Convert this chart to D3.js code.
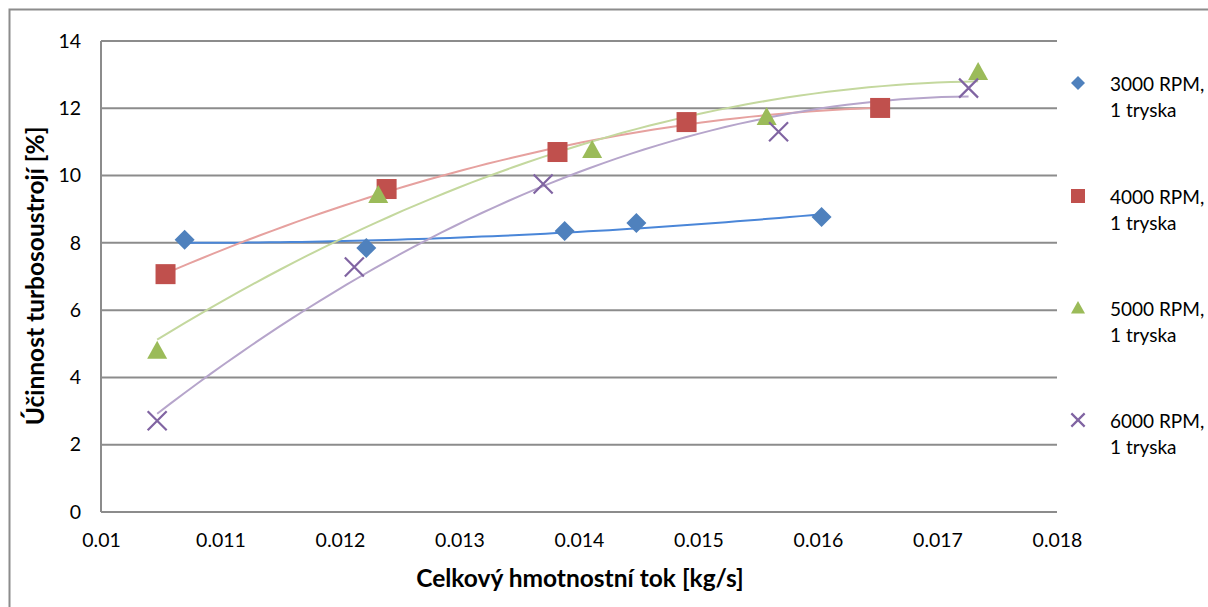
<!DOCTYPE html>
<html lang="cs">
<head>
<meta charset="UTF-8">
<title>Účinnost turbosoustrojí</title>
<script src="https://cdn.jsdelivr.net/npm/d3@7/dist/d3.min.js"></script>
<style>
  body { margin: 0; background: #fff; }
  svg text { font-family: Lato, "Open Sans", sans-serif; fill: #000; }
</style>
</head>
<body>
<svg id="chart" width="1208" height="607"></svg>
<script>
// data
var seriesNames = ["3000 RPM,|1 tryska", "4000 RPM,|1 tryska", "5000 RPM,|1 tryska", "6000 RPM,|1 tryska"];
var flow3000 = [0.01070, 0.01222, 0.01388, 0.01448, 0.01603];
var eff3000  = [8.09, 7.85, 8.35, 8.59, 8.77];
var flow4000 = [0.01054, 0.01239, 0.01382, 0.01490, 0.01652];
var eff4000  = [7.07, 9.60, 10.70, 11.59, 12.01];
var flow5000 = [0.01047, 0.01232, 0.01411, 0.01557, 0.01734];
var eff5000  = [4.79, 9.42, 10.76, 11.74, 13.08];
var flow6000 = [0.01047, 0.01212, 0.01370, 0.01567, 0.01726];
var eff6000  = [2.71, 7.28, 9.75, 11.30, 12.60];
var xTicks = [0.01, 0.011, 0.012, 0.013, 0.014, 0.015, 0.016, 0.017, 0.018];
var yTicks = [0, 2, 4, 6, 8, 10, 12, 14];

var markerColors = ["#4F81BD", "#C0504D", "#9BBB59", "#8064A2"];
var trendColors  = ["#4A86D8", "#E6A19F", "#C4D89E", "#B6A5CB"];
var symbols = ["diamond", "square", "triangle", "cross"];

var allFlow = [flow3000, flow4000, flow5000, flow6000];
var allEff = [eff3000, eff4000, eff5000, eff6000];

var svg = d3.select("#chart");

// outer chart frame
svg.append("rect")
    .attr("x", 9.5).attr("y", 9.5)
    .attr("width", 1400).attr("height", 800)
    .attr("fill", "none")
    .attr("stroke", "#8c8c8c")
    .attr("stroke-width", 2);

var plotLeft = 101, plotRight = 1057, plotTop = 41, plotBottom = 512;

var x = d3.scaleLinear().domain([0.01, 0.018]).range([plotLeft, plotRight]);
var y = d3.scaleLinear().domain([0, 14]).range([plotBottom, plotTop]);

// horizontal grid
svg.append("g").selectAll("line")
    .data(yTicks.filter(function (d) { return d > 0; }))
    .enter().append("line")
    .attr("x1", plotLeft).attr("x2", plotRight)
    .attr("y1", function (d) { return y(d); })
    .attr("y2", function (d) { return y(d); })
    .attr("stroke", "#8c8c8c")
    .attr("stroke-width", 2);

// axes
var xAxis = svg.append("g")
    .attr("transform", "translate(0," + plotBottom + ")")
    .call(d3.axisBottom(x).tickValues(xTicks).tickSize(0).tickPadding(21)
        .tickFormat(function (d) { return String(+d.toFixed(3)); }));
var yAxis = svg.append("g")
    .attr("transform", "translate(" + plotLeft + ",0)")
    .call(d3.axisLeft(y).tickValues(yTicks).tickSize(0).tickPadding(20));

[xAxis, yAxis].forEach(function (a) {
    a.select(".domain").attr("stroke", "#8c8c8c").attr("stroke-width", 2);
    a.selectAll("text").style("font-size", "19.5px").style("font-family", "Lato, 'Open Sans', sans-serif");
});
xAxis.select(".domain").attr("d", "M" + plotLeft + ",0H" + plotRight);
yAxis.select(".domain").attr("d", "M0," + plotBottom + "V" + plotTop);

// axis titles
svg.append("text")
    .attr("x", 580).attr("y", 587)
    .attr("text-anchor", "middle")
    .style("font-size", "24.5px").style("font-weight", "bold")
    .text("Celkový hmotnostní tok [kg/s]");
svg.append("text")
    .attr("transform", "translate(44,276) rotate(-90)")
    .attr("text-anchor", "middle")
    .style("font-size", "24.5px").style("font-weight", "bold")
    .text("Účinnost turbosoustrojí [%]");

// quadratic least squares trendline
function quadFit(xs, ys) {
    var n = xs.length, m = d3.mean(xs);
    var S = [[0, 0, 0], [0, 0, 0], [0, 0, 0]], B = [0, 0, 0];
    for (var i = 0; i < n; i++) {
        var u = (xs[i] - m) * 1000;
        var p = [1, u, u * u];
        for (var r = 0; r < 3; r++) {
            B[r] += p[r] * ys[i];
            for (var c = 0; c < 3; c++) S[r][c] += p[r] * p[c];
        }
    }
    // gaussian elimination
    for (var k = 0; k < 3; k++) {
        for (var r2 = k + 1; r2 < 3; r2++) {
            var f = S[r2][k] / S[k][k];
            for (var c2 = k; c2 < 3; c2++) S[r2][c2] -= f * S[k][c2];
            B[r2] -= f * B[k];
        }
    }
    var co = [0, 0, 0];
    for (var k2 = 2; k2 >= 0; k2--) {
        var s = B[k2];
        for (var j = k2 + 1; j < 3; j++) s -= S[k2][j] * co[j];
        co[k2] = s / S[k2][k2];
    }
    return function (xv) {
        var u = (xv - m) * 1000;
        return co[0] + co[1] * u + co[2] * u * u;
    };
}

var line = d3.line()
    .x(function (d) { return x(d[0]); })
    .y(function (d) { return y(d[1]); });

allFlow.forEach(function (xs, si) {
    var fn = quadFit(xs, allEff[si]);
    var x0 = d3.min(xs), x1 = d3.max(xs);
    var pts = d3.range(0, 61).map(function (k) {
        var xv = x0 + (x1 - x0) * k / 60;
        return [xv, fn(xv)];
    });
    svg.append("path")
        .datum(pts)
        .attr("d", line)
        .attr("fill", "none")
        .attr("stroke", trendColors[si])
        .attr("stroke-width", 2);
});

function drawMarker(g, kind, color, cx, cy, s) {
    if (kind === "diamond") {
        g.append("path")
            .attr("d", "M" + cx + "," + (cy - s) + "L" + (cx + s) + "," + cy + "L" + cx + "," + (cy + s) + "L" + (cx - s) + "," + cy + "Z")
            .attr("fill", color);
    } else if (kind === "square") {
        g.append("rect")
            .attr("x", cx - s).attr("y", cy - s)
            .attr("width", s * 2).attr("height", s * 2)
            .attr("fill", color);
    } else if (kind === "triangle") {
        g.append("path")
            .attr("d", "M" + cx + "," + (cy - s) + "L" + (cx + s) + "," + (cy + s * 0.8) + "L" + (cx - s) + "," + (cy + s * 0.8) + "Z")
            .attr("fill", color);
    } else {
        var h = s * 0.95;
        g.append("path")
            .attr("d", "M" + (cx - h) + "," + (cy - h) + "L" + (cx + h) + "," + (cy + h) + "M" + (cx + h) + "," + (cy - h) + "L" + (cx - h) + "," + (cy + h))
            .attr("stroke", color)
            .attr("stroke-width", 2.2)
            .attr("fill", "none");
    }
}

var marks = svg.append("g");
allFlow.forEach(function (xs, si) {
    xs.forEach(function (xv, i) {
        drawMarker(marks, symbols[si], markerColors[si], x(xv), y(allEff[si][i]), 10);
    });
});

// legend
var legendY = [84, 197, 309, 421];
var legend = svg.append("g");
seriesNames.forEach(function (name, si) {
    drawMarker(legend, symbols[si], markerColors[si], 1078, legendY[si] - 1, 7);
    var parts = name.split("|");
    parts.forEach(function (p, k) {
        legend.append("text")
            .attr("x", 1110).attr("y", legendY[si] + 7 + k * 26)
            .style("font-size", "19px")
            .text(p);
    });
});
</script>
</body>
</html>
